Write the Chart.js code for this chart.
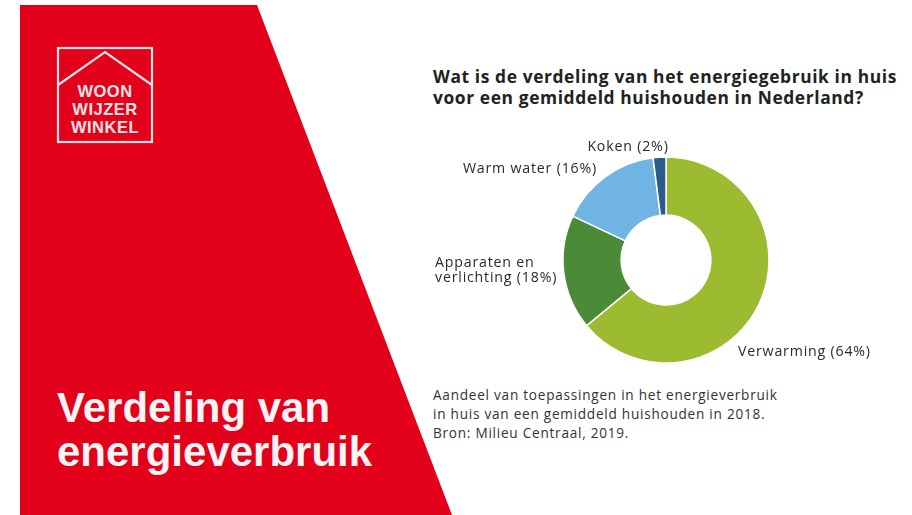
<!DOCTYPE html>
<html>
<head>
<meta charset="utf-8">
<script src="https://cdn.jsdelivr.net/npm/chart.js@4.4.1/dist/chart.umd.min.js"></script>
<style>
  html, body { margin:0; padding:0; background:#fff; }
  body { width:912px; height:515px; position:relative; overflow:hidden; font-family: "Open Sans", Lato, sans-serif; }
  #red { position:absolute; left:0; top:0; width:912px; height:515px; background:#e2001a;
         clip-path: polygon(20px 5px, 257px 5px, 452px 515px, 20px 515px); }
  #logo { position:absolute; left:0; top:0; }
  #bigtitle { position:absolute; left:57px; top:386px; color:#fff3f3; font-family:"Liberation Sans", Arial, sans-serif;
              font-weight:bold; font-size:42px; line-height:44px; }
  #title { position:absolute; left:433px; top:66px; color:#222; font-weight:700; font-size:17.4px; line-height:21px; letter-spacing:0.6px; white-space:nowrap; }
  #caption { position:absolute; left:433px; top:385px; color:#333; font-size:13.6px; line-height:19px; letter-spacing:0.75px; white-space:nowrap; }
  #wrap { position:absolute; left:420px; top:120px; width:492px; height:260px; }
  .lbl { position:absolute; color:#2a2a2a; font-size:14.2px; line-height:15px; letter-spacing:0.8px; white-space:nowrap; }
</style>
</head>
<body>
<div id="red"></div>
<svg id="logo" width="200" height="160">
  <rect x="58" y="48" width="94" height="94" fill="none" stroke="#fbe3e3" stroke-width="2.2"/>
  <polyline points="58,85 105,52 152,85" fill="none" stroke="#fbe3e3" stroke-width="2.2"/>
  <g font-family="Liberation Sans, Arial, sans-serif" font-weight="bold" font-size="16.5" fill="#fbe3e3" text-anchor="middle" letter-spacing="0.5">
    <text x="105" y="97">WOON</text>
    <text x="105" y="115">WIJZER</text>
    <text x="105" y="133">WINKEL</text>
  </g>
</svg>
<div id="bigtitle">Verdeling van<br>energieverbruik</div>
<div id="title">Wat is de verdeling van het energiegebruik in huis<br>voor een gemiddeld huishouden in Nederland?</div>
<div id="caption">Aandeel van toepassingen in het energieverbruik<br>in huis van een gemiddeld huishouden in 2018.<br>Bron: Milieu Centraal, 2019.</div>
<div id="wrap"><canvas id="c" width="492" height="260"></canvas></div>
<script>
// ---- data ----
const categories = [['Verwarming'], ['Apparaten en', 'verlichting'], ['Warm water'], ['Koken']];
const shares = [64, 18, 16, 2];
const sliceColors = ['#9cbb30', '#4b8a36', '#70b4e4', '#2b5b8b'];
// label placement relative to doughnut centre: [dx, dy, align]
const labelPlacement = [[72, 90, 'left'], [-231, 9, 'left'], [-69, -93, 'right'], [-38, -115, 'center']];

const wrap = document.getElementById('wrap');
const labelDivs = categories.map((lines, i) => {
  const d = document.createElement('div');
  d.className = 'lbl';
  const ls = lines.slice();
  ls[ls.length - 1] = ls[ls.length - 1] + ' (' + shares[i] + '%)';
  d.innerHTML = ls.join('<br>');
  wrap.appendChild(d);
  return d;
});

const labelPlugin = {
  id: 'htmlLabels',
  afterDraw(chart) {
    const meta = chart.getDatasetMeta(0);
    const arc = meta.data[0];
    const cx = arc.x, cy = arc.y;
    labelDivs.forEach((d, i) => {
      const [dx, dy, align] = labelPlacement[i];
      d.style.left = (cx + dx) + 'px';
      d.style.top = (cy + dy) + 'px';
      d.style.textAlign = align;
      const tx = align === 'left' ? '0' : (align === 'right' ? '-100%' : '-50%');
      d.style.transform = 'translate(' + tx + ',-50%)';
    });
  }
};

new Chart(document.getElementById('c'), {
  type: 'doughnut',
  data: {
    labels: categories,
    datasets: [{
      data: shares,
      backgroundColor: sliceColors,
      borderColor: '#ffffff',
      borderWidth: 1.5
    }]
  },
  options: {
    responsive: false,
    animation: false,
    radius: 103,
    cutout: 52,
    layout: { padding: { top: 20 } },
    plugins: { legend: { display: false }, tooltip: { enabled: false } }
  },
  plugins: [labelPlugin]
});
</script>
</body>
</html>
